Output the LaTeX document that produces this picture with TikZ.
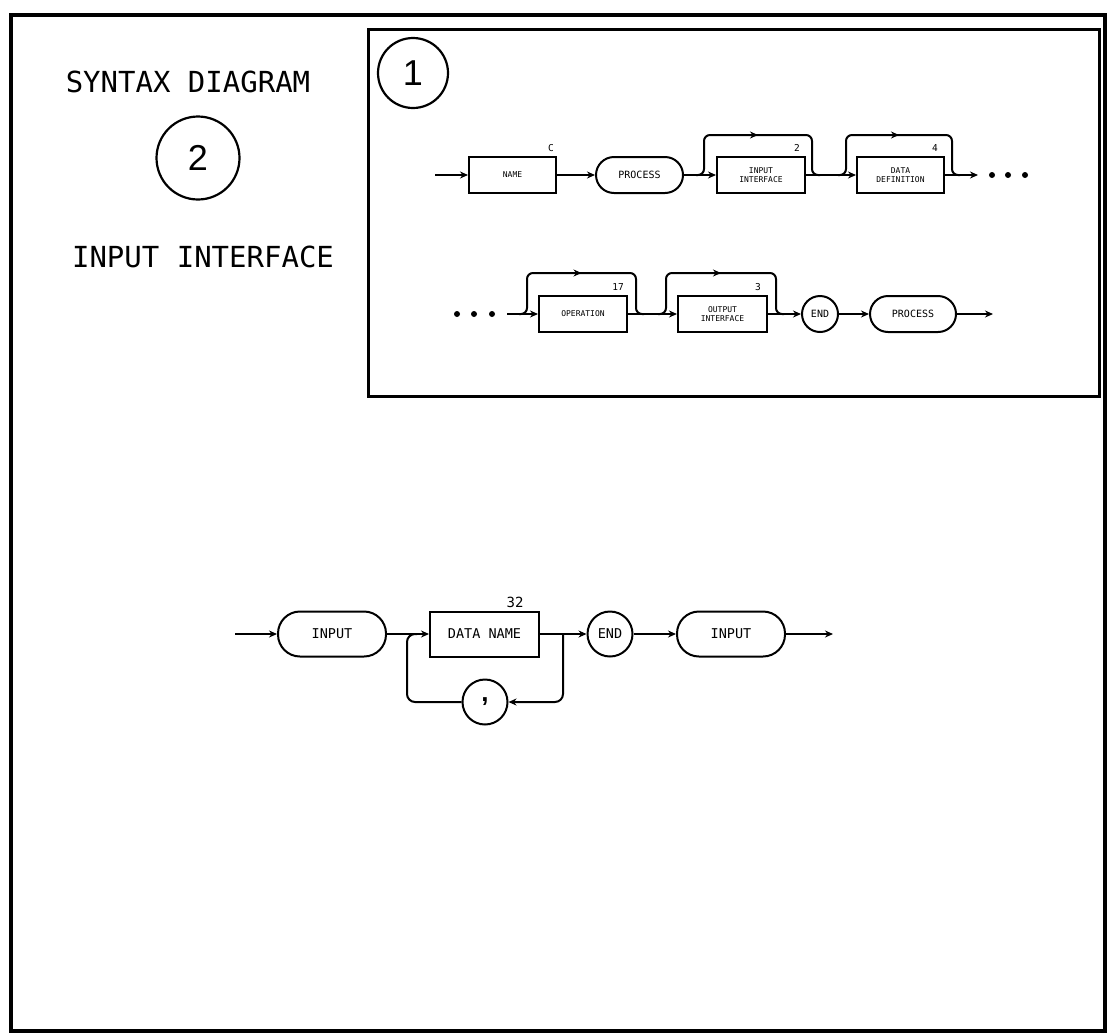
\documentclass[tikz,border=0pt]{standalone}
\usepackage{fontspec}
\setmonofont{DejaVu Sans Mono}
\newfontfamily\digitfont{Liberation Sans}
\usetikzlibrary{arrows.meta,decorations.markings,calc}
\begin{document}
\begin{tikzpicture}[x=1pt,y=-1pt,
  ln/.style={line width=2pt},
  arr/.style={ln,-{Stealth[length=8pt,width=7pt]}},
  midarrow/.style={postaction={decorate},decoration={markings,mark=at position #1 with {\arrow{Stealth[length=8pt,width=7pt]}}}},
  sbox/.style={draw,line width=2pt,minimum width=87pt,minimum height=36pt,inner sep=0pt,align=center,font=\ttfamily\fontsize{8}{8.5}\selectfont},
  spill/.style={sbox,rounded corners=18pt,font=\ttfamily\fontsize{10}{11}\selectfont},
  scirc/.style={draw,circle,line width=2pt,minimum size=#1,inner sep=0pt,font=\ttfamily\fontsize{10}{11}\selectfont},
  bbox/.style={draw,line width=2pt,minimum width=109pt,minimum height=45pt,inner sep=0pt,font=\ttfamily\fontsize{13.5}{14}\selectfont},
  bpill/.style={bbox,rounded corners=22pt},
  bcirc/.style={draw,circle,line width=2pt,minimum size=45pt,inner sep=0pt,font=\ttfamily\fontsize{13.5}{14}\selectfont},
  numlab/.style={font=\ttfamily\fontsize{9.5}{10}\selectfont,inner sep=0pt},
  head/.style={font=\ttfamily\fontsize{29}{30}\selectfont,inner sep=0pt},
  dot/.style={circle,fill=black,minimum size=6pt,inner sep=0pt}
]
\useasboundingbox (0,0) rectangle (1107,1034);
\fill[white] (0,0) rectangle (1107,1034);
% frames
\draw[line width=3.5pt] (11,15) rectangle (1105,1031);
\draw[line width=3pt] (368,29) rectangle (1099,396);

% left header
\node[head] (t1) at (188,82) {SYNTAX DIAGRAM};
\node[draw,circle,line width=2.2pt,minimum size=83pt,inner sep=0pt,font=\digitfont\fontsize{36}{36}\selectfont] (c2) at (198,158) {2};
\node[head] (t2) at (203,257) {INPUT INTERFACE};

% circle 1
\node[draw,circle,line width=2.2pt,minimum size=70pt,inner sep=0pt,font=\digitfont\fontsize{36}{36}\selectfont] (c1) at (413,73) {1};

% ---- top diagram, row 1
\coordinate (en1) at (435,175);
\node[sbox] (name) at (512.5,175) {NAME};
\node[spill] (proc1) at (639.5,175) {PROCESS};
\node[sbox,minimum width=88pt] (inif) at (761,175) {INPUT\\INTERFACE};
\node[sbox] (ddef) at (900.5,175) {DATA\\DEFINITION};
\coordinate (ex1) at (978,175);
\node[dot] (d1) at (992,175) {};
\node[dot] (d2) at (1008,175) {};
\node[dot] (d3) at (1025,175) {};

\node[numlab] at (551,148) {C};
\node[numlab] at (797,148) {2};
\node[numlab] at (935,148) {4};

\draw[arr] (en1) -- (name);
\draw[arr] (name) -- (proc1);
\draw[arr] (proc1) -- (inif);
\draw[arr] (inif) -- (ddef);
\draw[arr] (ddef) -- (ex1);
\draw[ln,rounded corners=6pt,midarrow=0.5] ($(inif.west)+(-20,0)$) -- ++(8,0) -- ++(0,-40) -- ++(108,0) -- ++(0,40) -- ++(8,0);
\draw[ln,rounded corners=6pt,midarrow=0.5] ($(ddef.west)+(-18,0)$) -- ++(8,0) -- ++(0,-40) -- ++(106,0) -- ++(0,40) -- ++(8,0);

% ---- top diagram, row 2
\node[dot] (d4) at (457,314) {};
\node[dot] (d5) at (474,314) {};
\node[dot] (d6) at (492,314) {};
\coordinate (en2) at (507,314);
\node[sbox,minimum width=88pt] (oper) at (583,314) {OPERATION};
\node[sbox,minimum width=89pt] (outif) at (722.5,314) {OUTPUT\\INTERFACE};
\node[scirc=36pt] (end1) at (820,314) {END};
\node[spill,minimum width=86pt] (proc2) at (913,314) {PROCESS};
\coordinate (ex2) at (993,314);

\node[numlab] at (618,287) {17};
\node[numlab] at (758,287) {3};

\draw[arr] (en2) -- (oper);
\draw[arr] (oper) -- (outif);
\draw[arr] (outif) -- (end1);
\draw[arr] (end1) -- (proc2);
\draw[arr] (proc2) -- (ex2);
\draw[ln,rounded corners=6pt,midarrow=0.5] ($(oper.west)+(-19,0)$) -- ++(8,0) -- ++(0,-41) -- ++(109,0) -- ++(0,41) -- ++(8,0);
\draw[ln,rounded corners=6pt,midarrow=0.5] ($(outif.west)+(-19,0)$) -- ++(8,0) -- ++(0,-41) -- ++(110,0) -- ++(0,41) -- ++(8,0);

% ---- bottom diagram
\coordinate (en3) at (235,634);
\node[bpill,minimum width=108pt] (inp1) at (332,634) {INPUT};
\node[bbox] (dname) at (484.5,634) {DATA NAME};
\node[bcirc] (end2) at (610,634) {END};
\node[bpill,minimum width=108pt] (inp2) at (731,634) {INPUT};
\coordinate (ex3) at (833,634);
\node[bcirc,font=\digitfont\bfseries\fontsize{26}{26}\selectfont] (comma) at (485,702) {\raisebox{4pt}{,}};
\node[font=\ttfamily\fontsize{14}{15}\selectfont,inner sep=0pt] at (515,602) {32};

\draw[arr] (en3) -- (inp1);
\draw[arr] (inp1) -- (dname);
\draw[arr] (dname) -- (end2);
\draw[arr] (end2) -- (inp2);
\draw[arr] (inp2) -- (ex3);
\draw[arr,rounded corners=8pt] ($(dname.east)+(23,0)$) |- (comma.east);
\draw[ln,rounded corners=8pt] (comma.west) -| ($(dname.west)+(-22,0)$) -- ++(10,0);
\end{tikzpicture}
\end{document}
